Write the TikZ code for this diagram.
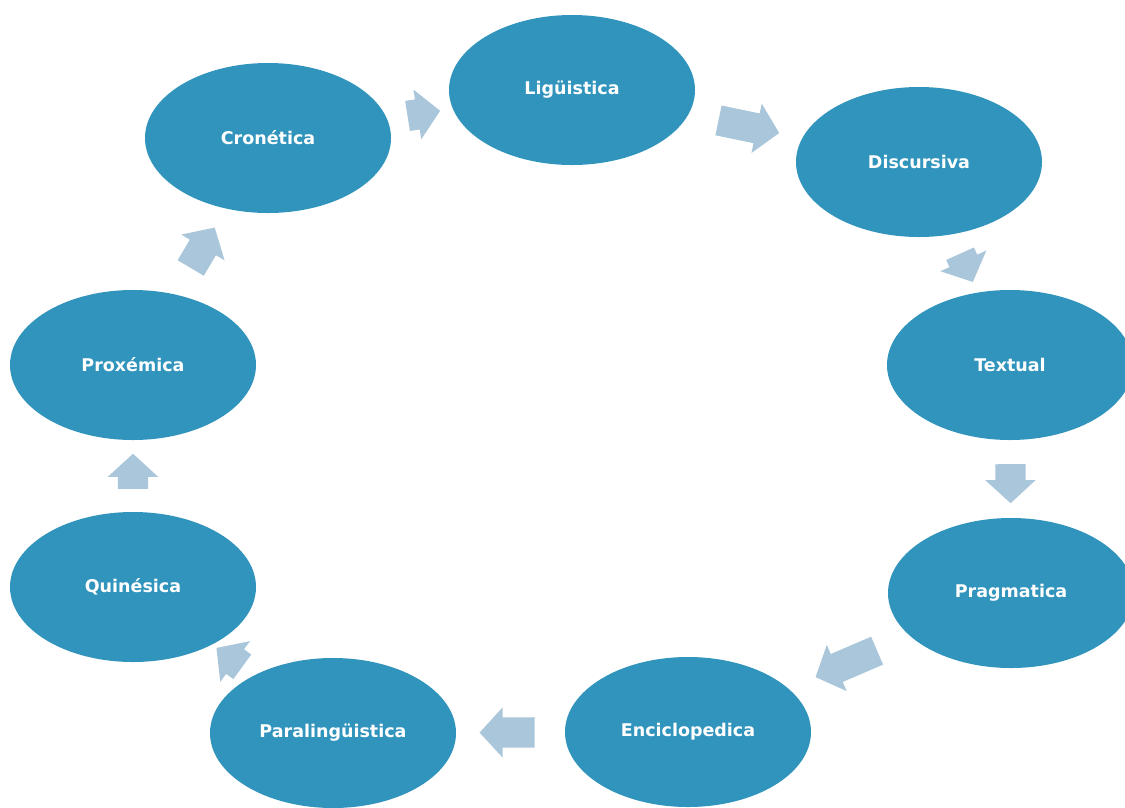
\documentclass[tikz,border=0pt]{standalone}
\usepackage{fontspec}
\setmainfont{DejaVu Sans}
\usetikzlibrary{shapes.geometric,shapes.arrows,calc}

\definecolor{stagefill}{RGB}{49,148,188}
\definecolor{flowfill}{RGB}{170,198,218}

\tikzset{
  stage/.style={ellipse, fill=stagefill, draw=none, minimum width=246, minimum height=150,
    inner sep=0pt, text=white, font=\fontsize{17.5}{20}\selectfont\bfseries},
  flowarrow/.style={single arrow, fill=flowfill, draw=none, inner xsep=0pt, inner ysep=15pt,
    minimum width=50, single arrow head extend=10, single arrow tip angle=95}
}

% block arrow #1 placed midway between stages #2 and #3, length #4
\newcommand\flowstep[4]{%
  \path let \p1=($(#3)-(#2)$), \n1={atan2(\y1,\x1)} in
    ($(#2)!0.49!(#3)$) node[flowarrow, minimum height=#4, rotate=\n1] (#1) {};
}

\begin{document}
\begin{tikzpicture}[x=1pt, y=-1pt]
\useasboundingbox (0,0) rectangle (1125,807);
\clip (0,0) rectangle (1125,807);

\node[stage] (lig)  at (572,90)   {Ligüistica};
\node[stage] (disc) at (919,162)  {Discursiva};
\node[stage] (text) at (1010,365) {Textual};
\node[stage] (prag) at (1011,593) {Pragmatica};
\node[stage] (enc)  at (688,732)  {Enciclopedica};
\node[stage] (para) at (333,733)  {Paralingüistica};
\node[stage] (quin) at (133,587)  {Quinésica};
\node[stage] (prox) at (133,365)  {Proxémica};
\node[stage] (cron) at (268,138)  {Cronética};

\flowstep{a1}{cron}{lig}{33}
\flowstep{a2}{lig}{disc}{62}
\flowstep{a3}{disc}{text}{31}
\flowstep{a4}{text}{prag}{39}
\flowstep{a5}{prag}{enc}{67}
\flowstep{a6}{enc}{para}{55}
\flowstep{a7}{para}{quin}{32}
\flowstep{a8}{quin}{prox}{35}
\flowstep{a9}{prox}{cron}{47}
\end{tikzpicture}
\end{document}
